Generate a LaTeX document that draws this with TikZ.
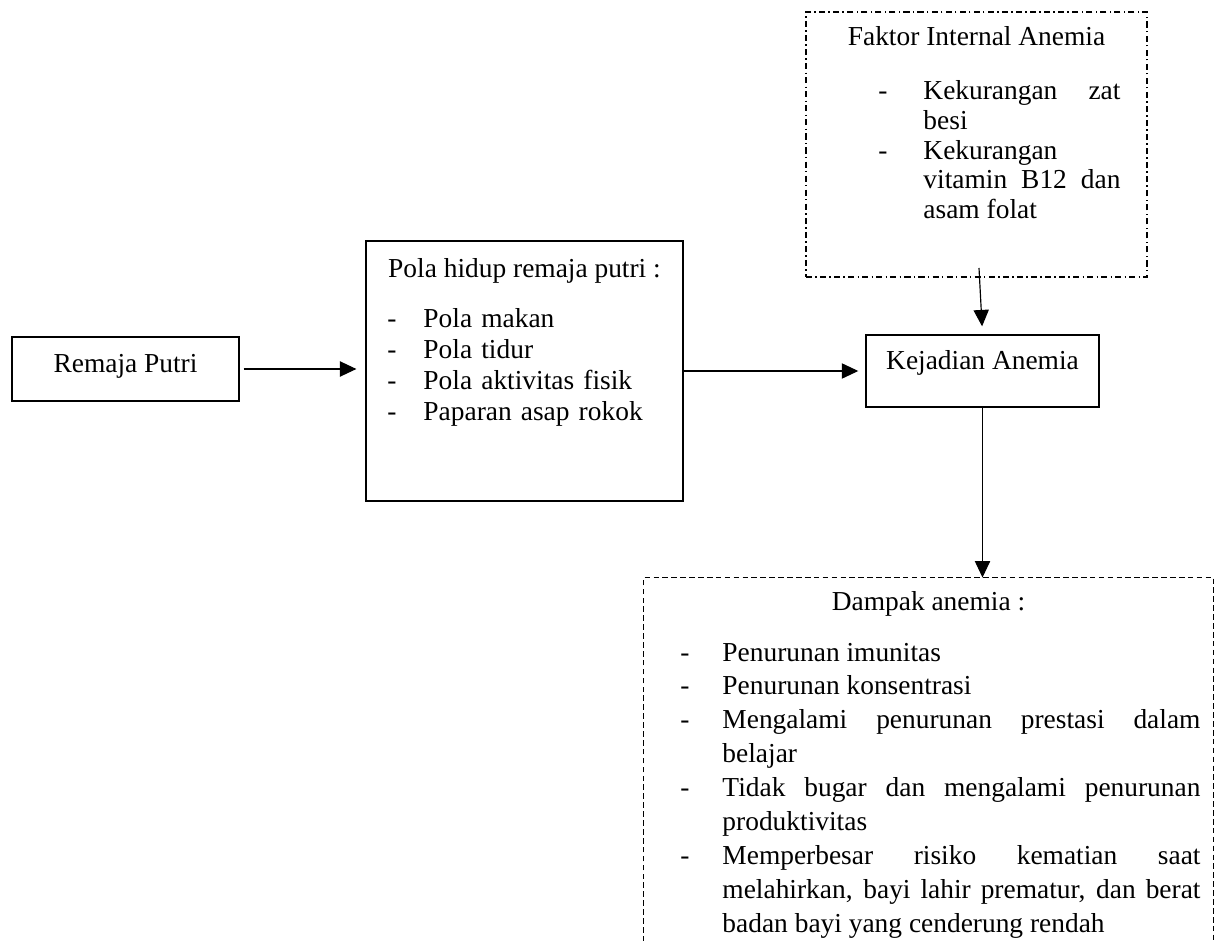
\documentclass[tikz,border=0pt]{standalone}
\usepackage{fontspec}
\setmainfont{Liberation Serif}
\usetikzlibrary{arrows.meta}

\newlength{\stripgap}
\newcommand{\strip}[1]{\noindent\llap{\makebox[\stripgap][l]{-}}#1\par}

\begin{document}
\hyphenpenalty=10000
\exhyphenpenalty=10000
\tolerance=10000
\adjdemerits=0
\begin{tikzpicture}[x=0.015cm, y=-0.015cm,
  kotak/.style={draw, line width=0.6pt, inner sep=0pt},
  teks/.style={inner sep=0pt, font=\fontsize{11.7pt}{14pt}\selectfont},
  daftar/.style={inner sep=0pt, anchor=base west, align=justify, text width=#1},
  panah/.style={-{Triangle[length=7pt,width=6.5pt]}, line width=0.5pt},
  putus/.style={dash pattern=on 2.4pt off 1.4pt, line width=0.45pt},
  titikgaris/.style={draw, inner sep=0pt, line width=0.45pt,
    dash pattern=on 2.6pt off 1.4pt on 0.6pt off 1.4pt}]

\useasboundingbox (0,0) rectangle (1215,941);

% boxes
\node[kotak, minimum width=3.405cm, minimum height=0.96cm] (remaja) at (125.5,369) {};
\node[kotak, minimum width=4.755cm, minimum height=3.9cm] (pola) at (524.5,371) {};
\node[kotak, minimum width=3.495cm, minimum height=1.08cm] (kejadian) at (982.5,371) {};
\node[titikgaris, minimum width=5.115cm, minimum height=3.975cm] (faktor) at (976.5,144.5) {};
\node[inner sep=0pt, minimum width=8.535cm, minimum height=5.445cm] (dampak) at (928.5,759.5) {};
\draw[putus] (dampak.south west) -- (dampak.north west) -- (dampak.north east) -- (dampak.south east);

% texts
\node[teks] (tremaja) at (125.5,366) {Remaja Putri};
\node[teks] (tkejadian) at (982.5,363) {Kejadian Anemia};
\node[teks, anchor=base] (tpola) at (524.5,278) {Pola hidup remaja putri :};
\node[teks, anchor=base] (tfaktor) at (976.5,46) {Faktor Internal Anemia};
\node[teks, anchor=base] (tdampak) at (928.5,610) {Dampak anemia :};

% lists
\node[daftar=3.6cm, font=\fontsize{11.7pt}{13.2pt}\selectfont, align=left] (lpola) at (423,328) {%
  \setlength{\stripgap}{0.54cm}%
  \strip{Pola makan}
  \strip{Pola tidur}
  \strip{Pola aktivitas fisik}
  \strip{Paparan asap rokok}};
\node[daftar=2.955cm, font=\fontsize{11.7pt}{12.6pt}\selectfont] (lfaktor) at (923,100) {%
  \setlength{\stripgap}{0.675cm}%
  \strip{Kekurangan zat besi}
  \strip{Kekurangan vitamin B12 dan asam folat}};
\node[daftar=7.17cm, font=\fontsize{11.7pt}{14.5pt}\selectfont] (ldampak) at (722,661) {%
  \setlength{\stripgap}{0.63cm}%
  \strip{Penurunan imunitas}
  \strip{Penurunan konsentrasi}
  \strip{Mengalami penurunan prestasi dalam belajar}
  \strip{Tidak bugar dan mengalami penurunan produktivitas}
  \strip{Memperbesar risiko kematian saat melahirkan, bayi lahir prematur, dan berat badan bayi yang cenderung rendah}};

% arrows
\coordinate (fk) at (979,268);
\draw[panah, shorten <=1.7pt, shorten >=3.8pt] (remaja.east) -- (remaja.east -| pola.west);
\draw[panah, shorten >=3pt] (pola.east) -- (kejadian.west);
\draw[panah, shorten >=3.4pt] (fk) -- (kejadian.north);
\draw[panah] (kejadian.south) -- (kejadian.south |- dampak.north);

\end{tikzpicture}
\end{document}
